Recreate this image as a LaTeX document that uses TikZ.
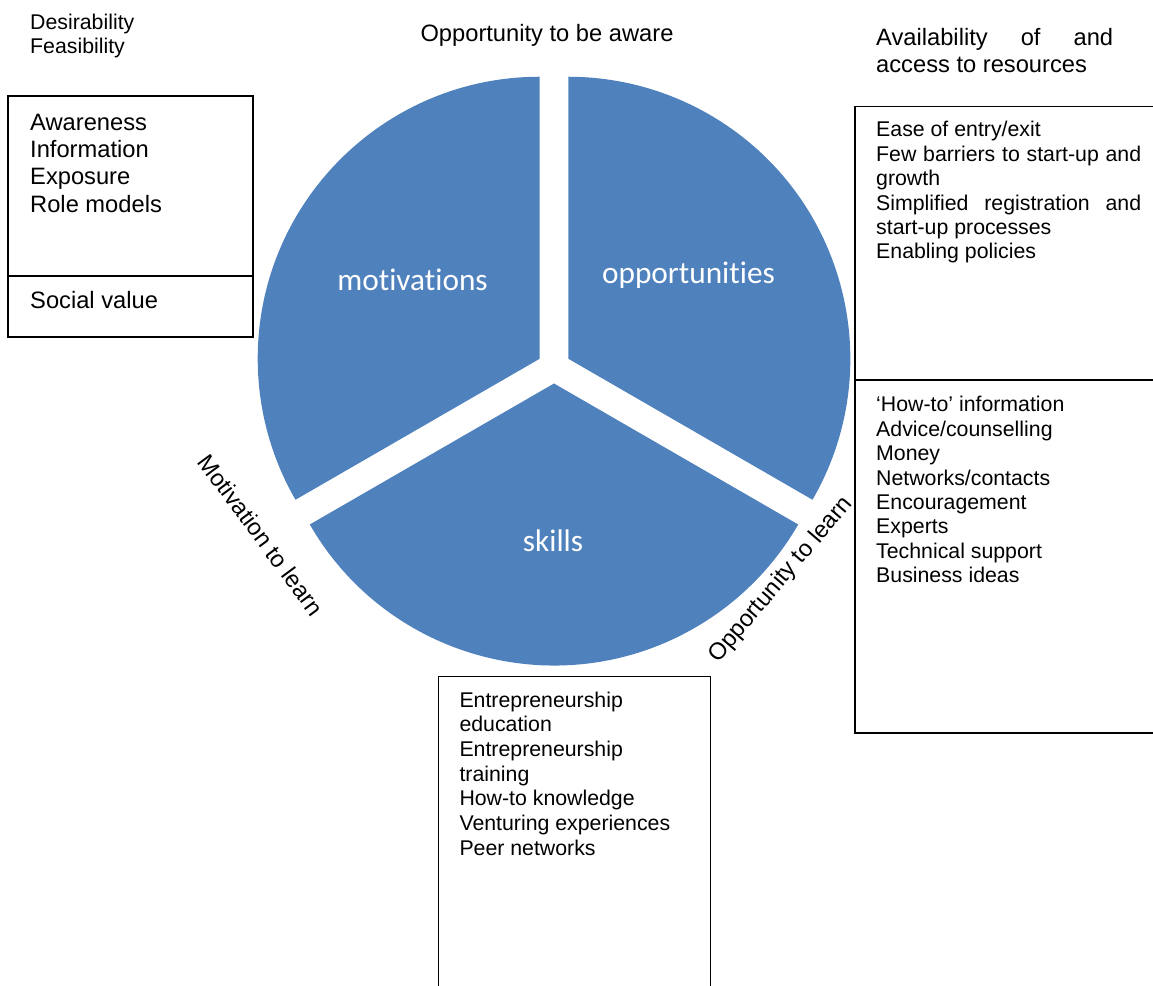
\documentclass[tikz,border=0pt]{standalone}
\usepackage{fontspec}
\setmainfont{Liberation Sans}
\newfontfamily\calibri[Ligatures=NoCommon]{Carlito}
\usepackage{tikz}
\usetikzlibrary{calc}
\definecolor{pieblue}{RGB}{79,129,189}

\begin{document}
\begin{tikzpicture}[x=1pt,y=1pt,% List of styles applied to all, to override specify on a case-by-case
	every node/.style={
		align=left,  		% use this so that the "\\" for line break works
		inner sep=0pt		% text sits right at the given point
		},
	piece/.style={fill=pieblue},
	piecetext/.style={text=white,anchor=base,font=\calibri\fontsize{31.3}{37}\selectfont},
	boxline/.style={draw=black,line width=1.4pt},
	big/.style={font=\fontsize{23.7}{27.3}\selectfont},
	small/.style={font=\fontsize{21.3}{24.4}\selectfont}
	]
	\clip (0,0) rectangle (1153,985);
	% the three pieces, each pulled out from the centre
	\coordinate (C) at (554,618);
	\fill[piece] ($(C)+(150:16.5)$) -- ++(90:282) arc[start angle=90,end angle=210,radius=282] -- cycle;
	\fill[piece] ($(C)+(30:16.5)$) -- ++(-30:282) arc[start angle=-30,end angle=90,radius=282] -- cycle;
	\fill[piece] ($(C)+(270:16.5)$) -- ++(210:282) arc[start angle=210,end angle=330,radius=282] -- cycle;
	\node[piecetext](mot) at (412.5,694){motivations};
	\node[piecetext](opp) at (688.5,701.7){opportunities};
	\node[piecetext](ski) at (553,433.3){skills};
	% labels round the circle
	\node[big,anchor=base](aware) at (547,943.3){Opportunity to be aware};
	\node[big,rotate=-53.5](motlearn) at (261,450){Motivation to learn};
	\node[big,rotate=49.5](opplearn) at (781,405){Opportunity to learn};
	\node[small,font=\fontsize{21.3}{24}\selectfont,anchor=north west](desire) at (30,972.8){\strut Desirability\\Feasibility};
	\node[big,anchor=north west](avail) at (876,959.1){\strut\makebox[237pt][s]{Availability of and}\\access to resources};
	% motivations box
	\draw[boxline] (8,889) rectangle (253,648);
	\draw[boxline] (8,709) -- (253,709);
	\node[big,anchor=north west](expose) at (30,874.1){\strut Awareness\\Information\\Exposure\\Role models};
	\node[big,anchor=base west](social) at (30,676){Social value};
	% opportunities boxes
	\draw[boxline] (855,878.3) rectangle (1170,252);
	\draw[boxline] (855,605) -- (1170,605);
	\node[small,anchor=north west](entry) at (876,865.4){\strut Ease of entry/exit\\
		\makebox[265pt][s]{Few barriers to start-up and}\\growth\\
		\makebox[265pt][s]{Simplified registration and}\\start-up processes\\Enabling policies};
	\node[small,anchor=north west](resources) at (876,590.4){\strut `How-to' information\\Advice/counselling\\Money\\
		Networks/contacts\\Encouragement\\Experts\\Technical support\\Business ideas};
	% skills box
	\draw[boxline] (438.3,308.3) rectangle (710.5,-20);
	\node[small,font=\fontsize{21.3}{24.7}\selectfont,anchor=north west](learning) at (459.3,295.4){\strut Entrepreneurship\\education\\
		Entrepreneurship\\training\\How-to knowledge\\Venturing experiences\\Peer networks};
\end{tikzpicture}
\end{document}
